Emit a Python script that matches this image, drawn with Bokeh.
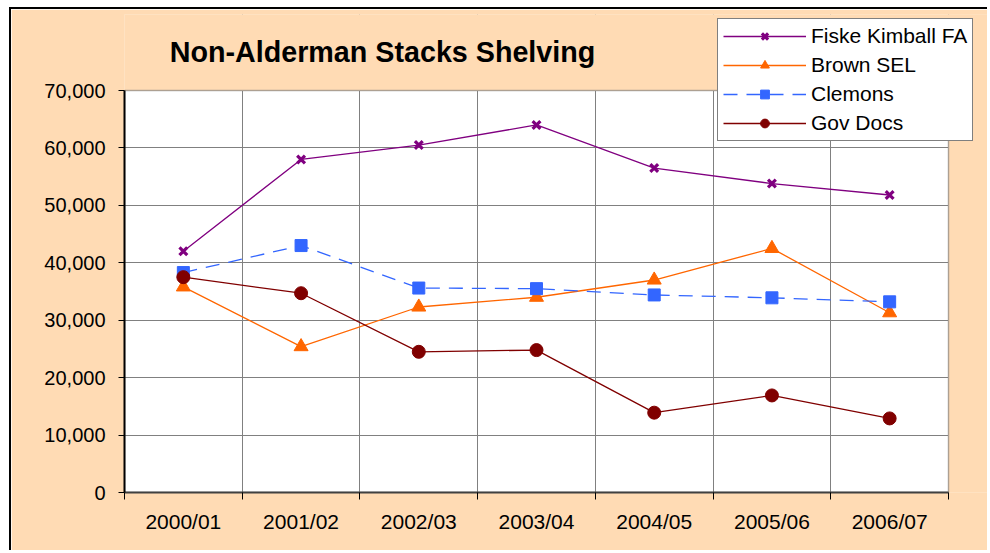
from bokeh.plotting import figure
from bokeh.models import (FixedTicker, NumeralTickFormatter, Legend, LegendItem,
                          Label, Range1d, ColumnDataSource, BoxAnnotation)
from bokeh.embed import file_html
from bokeh.resources import INLINE

# ---- data ----
categories = ["2000/01", "2001/02", "2002/03", "2003/04", "2004/05", "2005/06", "2006/07"]
fiske = [42000, 58000, 60500, 64000, 56500, 53800, 51800]
brown = [35800, 25400, 32300, 34000, 37000, 42500, 31300]
clemons = [38300, 43000, 35600, 35500, 34400, 33900, 33200]
govdocs = [37500, 34700, 24500, 24800, 13900, 16900, 12900]
y_ticks = [0, 10000, 20000, 30000, 40000, 50000, 60000, 70000]
Y_MAX = 70000

FONT = "Liberation Sans"
PEACH = "#FFDBB4"
GRID = "#808080"

W, H = 978, 543
LEFT, BOTTOM, TOP = 113, 60, 5
frame_w = W - LEFT
frame_h = H - BOTTOM - TOP
area_w, area_h = 824, 402           # size of the white plotting area in pixels
n = len(categories)
x_end = n * frame_w / area_w
y_end = Y_MAX * frame_h / area_h

p = figure(width=W, height=H, output_backend="svg", toolbar_location=None,
           x_range=Range1d(0, x_end), y_range=Range1d(0, y_end),
           min_border_left=LEFT, min_border_right=0, min_border_top=TOP,
           min_border_bottom=BOTTOM)
p.styles = {"margin-left": "9px", "margin-top": "7px",
            "border-left": "2px solid black", "border-top": "2px solid black"}
p.border_fill_color = PEACH
p.background_fill_color = PEACH
p.outline_line_color = None

xs = [i + 0.5 for i in range(n)]
src = ColumnDataSource(dict(x=xs, fiske=fiske, brown=brown, clemons=clemons, gov=govdocs))

# white plotting area
p.add_layout(BoxAnnotation(left=0, right=n, bottom=0, top=Y_MAX, fill_color="white",
                           fill_alpha=1, line_color=None, level="image"))

# x axis: labels centred, tick marks at category boundaries
p.xaxis.ticker = FixedTicker(ticks=xs, minor_ticks=list(range(n + 1)))
p.xaxis.bounds = (0, n)
p.xaxis.major_label_overrides = {x: c for x, c in zip(xs, categories)}
p.xaxis.major_tick_out = 0
p.xaxis.major_tick_in = 0
p.xaxis.minor_tick_out = 7
p.xaxis.minor_tick_in = 0
p.xaxis.minor_tick_line_color = "black"
p.xaxis.axis_line_color = "#404040"
p.xaxis.axis_line_width = 2
p.xaxis.major_label_standoff = 10
p.xaxis.major_label_text_font = FONT
p.xaxis.major_label_text_font_size = "21px"
p.xaxis.major_label_text_color = "black"
p.xgrid.ticker = FixedTicker(ticks=list(range(n + 1)))
p.xgrid.grid_line_color = GRID
p.xgrid.grid_line_width = 1

p.yaxis.ticker = FixedTicker(ticks=y_ticks)
p.yaxis.bounds = (0, Y_MAX)
p.yaxis.formatter = NumeralTickFormatter(format="0,0")
p.yaxis.major_tick_out = 6
p.yaxis.major_tick_in = 0
p.yaxis.minor_tick_line_color = None
p.yaxis.major_tick_line_color = "black"
p.yaxis.axis_line_color = "black"
p.yaxis.axis_line_width = 2
p.yaxis.major_label_standoff = 13
p.yaxis.major_label_text_font = FONT
p.yaxis.major_label_text_font_size = "20px"
p.yaxis.major_label_text_color = "black"
p.ygrid.grid_line_color = GRID
p.ygrid.grid_line_width = 1

# peach chart area outside the plotting area, then the plotting-area border
p.add_layout(BoxAnnotation(bottom=Y_MAX, fill_color=PEACH, fill_alpha=1,
                           line_color=None, level="underlay"))
p.add_layout(BoxAnnotation(left=n, fill_color=PEACH, fill_alpha=1,
                           line_color=None, level="underlay"))
p.add_layout(BoxAnnotation(left=0, right=n, bottom=0, top=Y_MAX, fill_alpha=0,
                           line_color=GRID, line_width=2, level="underlay"))

# series
l1 = p.line("x", "fiske", source=src, line_color="#800080", line_width=1.3)
m1 = p.scatter("x", "fiske", source=src, marker="x", size=11,
               line_color="#800080", line_width=3.2)
l2 = p.line("x", "brown", source=src, line_color="#FF6600", line_width=1.3)
m2 = p.scatter("x", "brown", source=src, marker="triangle", size=14,
               fill_color="#FF6600", line_color="#FF6600")
l3 = p.line("x", "clemons", source=src, line_color="#3366FF", line_width=1.3,
            line_dash="14 9")
m3 = p.scatter("x", "clemons", source=src, marker="square", size=12,
               fill_color="#3366FF", line_color="#3366FF")
l4 = p.line("x", "gov", source=src, line_color="#800000", line_width=1.3)
m4 = p.scatter("x", "gov", source=src, marker="circle", size=13,
               fill_color="#800000", line_color="#800000")

legend = Legend(items=[
    LegendItem(label="Fiske Kimball FA", renderers=[l1, m1]),
    LegendItem(label="Brown SEL", renderers=[l2, m2]),
    LegendItem(label="Clemons", renderers=[l3, m3]),
    LegendItem(label="Gov Docs", renderers=[l4, m4]),
], location=(593, 351))
legend.background_fill_color = "white"
legend.background_fill_alpha = 1
legend.border_line_color = "black"
legend.border_line_width = 1
legend.label_text_font = FONT
legend.label_text_font_size = "21px"
legend.label_text_color = "black"
legend.glyph_width = 83
legend.glyph_height = 22
legend.label_height = 22
legend.spacing = 5
legend.padding = 5
legend.margin = 0
legend.label_standoff = 5
p.add_layout(legend, "center")

title = Label(x=258, y=441, x_units="screen", y_units="screen",
              text="Non-Alderman Stacks Shelving", text_font=FONT,
              text_font_size="28.7px", text_font_style="bold", text_color="black",
              text_align="center", text_baseline="alphabetic")
p.add_layout(title)

open("out.html", "w").write(file_html(p, INLINE))
